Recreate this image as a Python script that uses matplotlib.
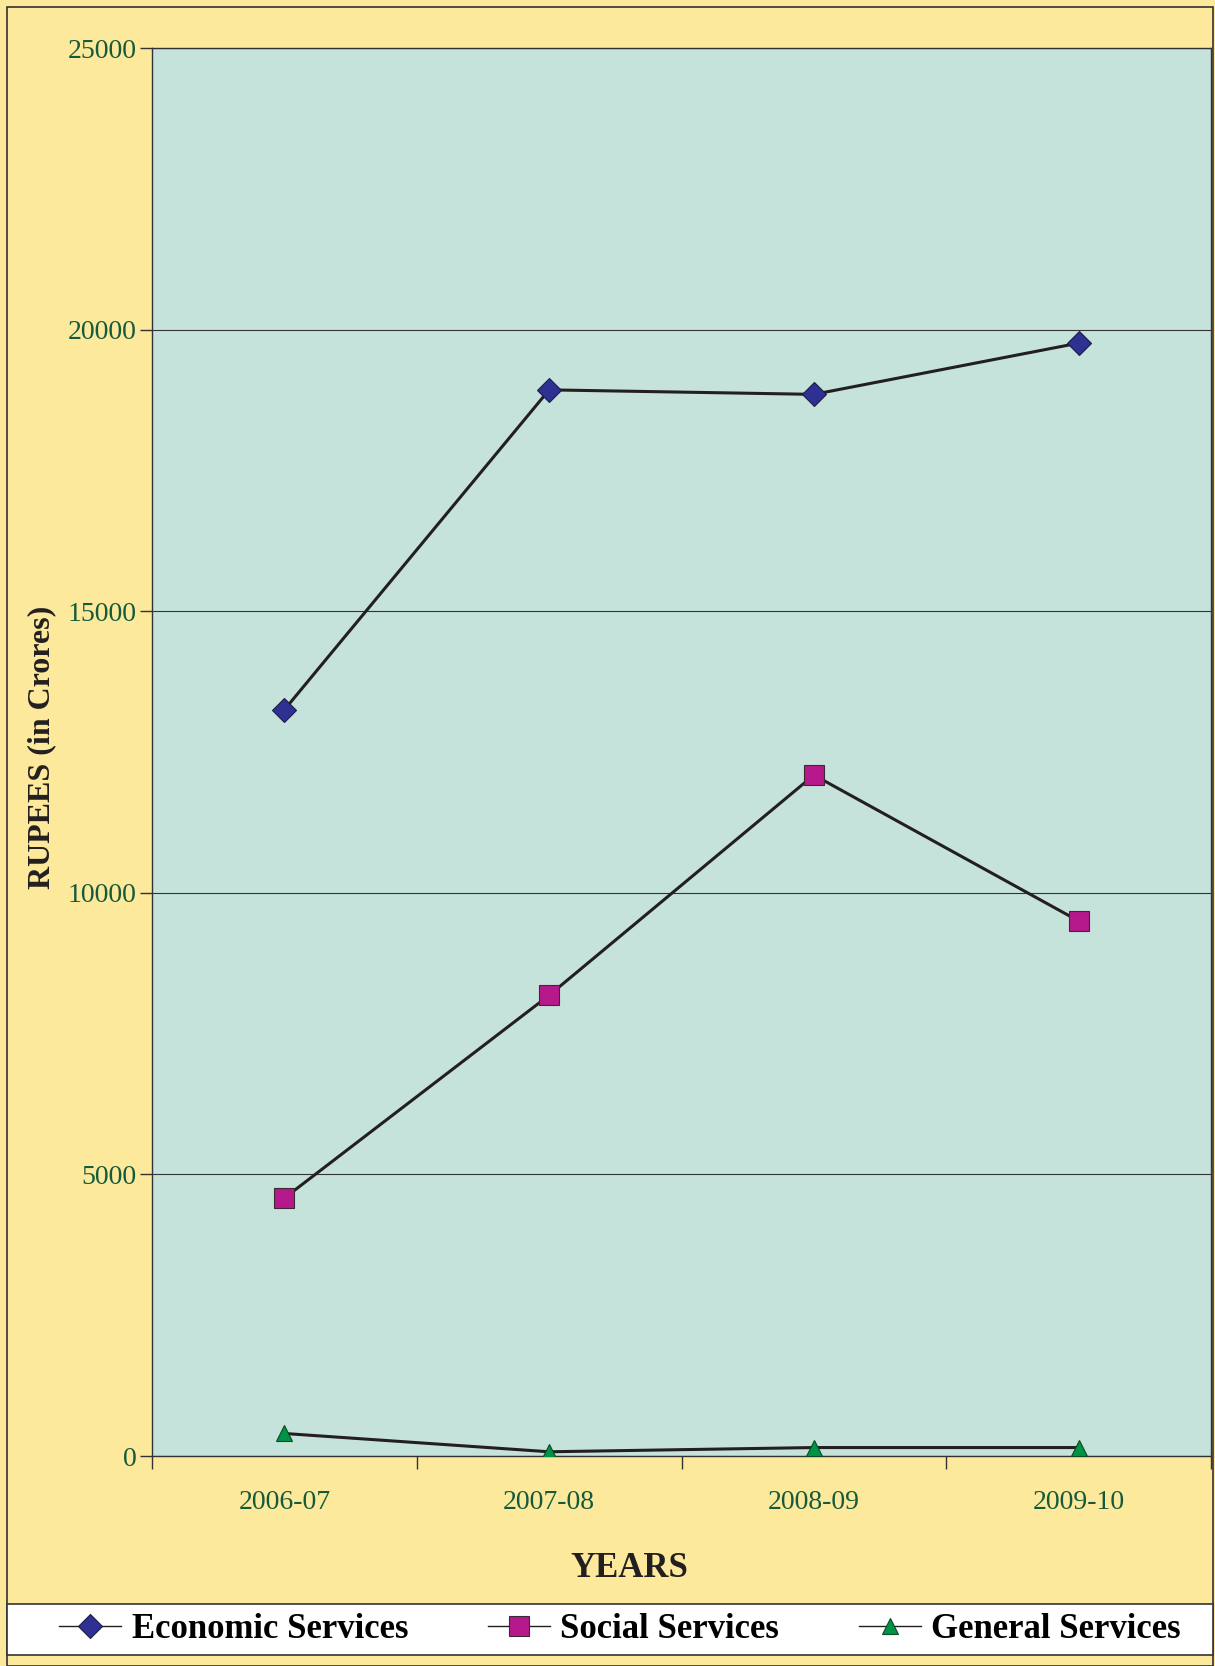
import matplotlib
matplotlib.use("Agg")
import matplotlib.pyplot as plt
from matplotlib.patches import Rectangle

# values (Rs. crores)
years = ["2006-07", "2007-08", "2008-09", "2009-10"]
economic = [13250, 18930, 18850, 19760]
social = [4580, 8180, 12090, 9500]
general = [400, 75, 150, 150]
yticks = [0, 5000, 10000, 15000, 20000, 25000]

plt.rcParams['font.family'] = ['Liberation Serif', 'DejaVu Serif']

W, H = 1215, 1666
fig = plt.figure(figsize=(W / 100, H / 100), dpi=100)
fig.patch.set_facecolor('#fce99b')

# outer frame and legend strip
fig.add_artist(Rectangle((7 / W, 0), (W - 9) / W, (H - 7) / H, transform=fig.transFigure,
                         fill=False, edgecolor='#333333', linewidth=1.2, zorder=0))
fig.add_artist(Rectangle((7 / W, 1 - 1655 / H), (W - 9) / W, 51 / H, transform=fig.transFigure,
                         facecolor='white', edgecolor='#333333', linewidth=1.2, zorder=0))

ax = fig.add_axes([152 / W, 1 - 1456 / H, 1059 / W, 1408 / H])
ax.set_facecolor('#c6e3db')

x = list(range(len(years)))
ax.plot(x, economic, color='#231f20', lw=2.2, marker='D', ms=12,
        mfc='#2e3192', mec='#1c1c4a', mew=0.8, label='Economic Services', zorder=3)
ax.plot(x, social, color='#231f20', lw=2.2, marker='s', ms=14,
        mfc='#b5198b', mec='#3a2a33', mew=0.8, label='Social Services', zorder=3)
ax.plot(x, general, color='#231f20', lw=2.2, marker='^', ms=11,
        mfc='#009245', mec='#0a4a25', mew=0.8, label='General Services', zorder=3)

ax.set_xlim(-0.5, len(years) - 0.5)
ax.set_ylim(0, 25000)
ax.set_yticks(yticks)
ax.set_yticklabels([str(v) for v in yticks])
ax.set_xticks(x)
ax.set_xticklabels(years)
ax.set_xticks([i - 0.5 for i in range(len(years) + 1)], minor=True)

tick_color = '#165a3c'
ax.tick_params(axis='y', length=9, width=1, color='#333333', direction='out',
               labelsize=20, labelcolor=tick_color, pad=2)
ax.tick_params(axis='x', which='major', length=0, labelsize=20, labelcolor=tick_color, pad=24.5)
ax.tick_params(axis='x', which='minor', length=9, width=1, color='#333333', direction='out')

ax.grid(axis='y', color='#333333', linewidth=0.8)
ax.set_axisbelow(True)
for s in ax.spines.values():
    s.set_color('#333333')
    s.set_linewidth(1.0)

ax.set_ylabel('RUPEES (in Crores)', fontsize=23, fontweight='bold', color='#231f20')
ax.yaxis.set_label_coords(-0.0905, 0.503)
ax.set_xlabel('YEARS', fontsize=25, fontweight='bold', color='#231f20')
ax.xaxis.set_label_coords(0.4504, -0.0682)

leg = fig.legend(loc='center', bbox_to_anchor=(620 / W, 1 - 1630 / H), ncol=3, frameon=False,
                 prop={'weight': 'bold', 'size': 25}, handlelength=1.8, handletextpad=0.3,
                 columnspacing=2.28, markerscale=1.0)
for h in leg.legend_handles:
    h.set_linewidth(1.0)

fig.savefig('out.png', dpi=100, facecolor=fig.get_facecolor())
